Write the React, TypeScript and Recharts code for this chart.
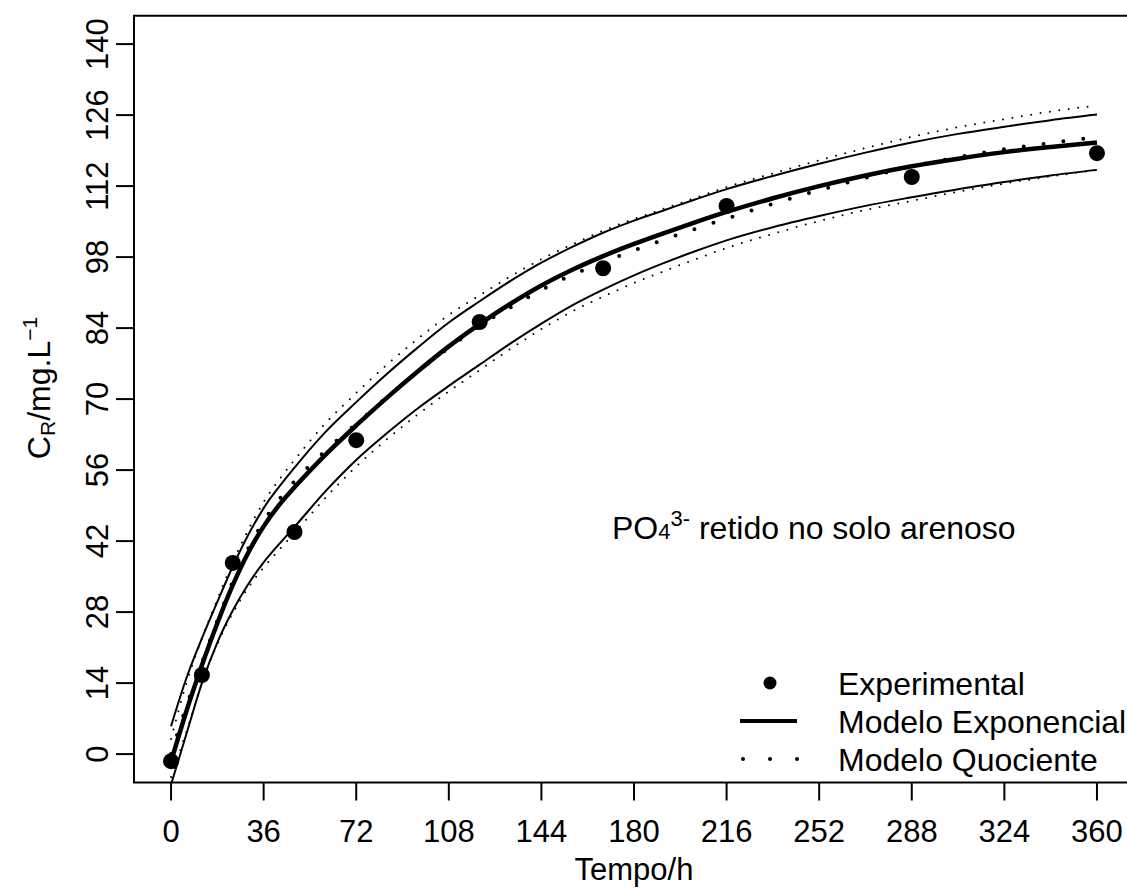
import { ComposedChart, Line, Scatter, XAxis, YAxis, ReferenceArea } from "recharts";

const FONT = "'Liberation Sans', Arial, Helvetica, sans-serif";

// time grid used for the fitted curves (h)
const tempo = [0, 6, 12, 18, 24, 30, 36, 42, 48, 60, 72, 84, 96, 108, 120, 132, 144, 156, 168, 180, 192, 204, 216, 234, 252, 270, 288, 306, 324, 342, 360];

// Modelo Exponencial + band
const expModel = [-1.5, 8.5, 17.5, 25.8, 33.3, 39.7, 44.9, 49.1, 52.6, 59, 64.8, 70.3, 75.5, 80.4, 84.8, 88.8, 92.4, 95.5, 98.2, 100.6, 102.8, 104.9, 106.9, 109.6, 112, 114.1, 115.9, 117.4, 118.7, 119.7, 120.6];
const expUpper = [5.5, 15, 22.8, 30, 37, 43.2, 48.5, 52.7, 56.5, 63.5, 69.4, 75, 80.2, 85.1, 89.3, 93.3, 96.9, 100, 102.8, 105.2, 107.3, 109.4, 111.4, 114, 116.4, 118.6, 120.6, 122.3, 123.7, 125, 126.1];
const expLower = [-6, 4, 14, 22, 28.3, 33.5, 37.8, 41.4, 44.8, 51.8, 58, 63.3, 68.2, 72.6, 76.8, 81, 84.9, 88.5, 91.6, 94.4, 96.9, 99.2, 101.3, 103.9, 106.1, 108.1, 109.8, 111.4, 112.8, 114.1, 115.2];

// Modelo Quociente + band
const quoModel = [0, 9.5, 18, 26.3, 34, 40.5, 45.9, 50.2, 53.8, 59.8, 65.1, 70.4, 75.4, 80.1, 84.4, 88.1, 91.5, 94.5, 97, 99.3, 101.5, 103.6, 105.6, 108.5, 111.2, 113.6, 115.9, 117.7, 119.3, 120.5, 121.7];
const quoUpper = [3, 14, 22.8, 30.5, 37.8, 44.2, 49.7, 54.1, 58, 65.2, 71.2, 76.8, 81.9, 86.6, 90.5, 94.2, 97.6, 100.5, 103.2, 105.5, 107.6, 109.7, 111.8, 114.5, 117.1, 119.5, 121.7, 123.6, 125.2, 126.7, 127.9];
const quoLower = [-4.5, 4.5, 14, 21.7, 27.8, 32.8, 36.8, 40.3, 43.6, 50.5, 56.7, 62.1, 67, 71.5, 75.7, 79.9, 83.8, 87.3, 90.2, 92.9, 95.3, 97.6, 99.8, 102.6, 105.1, 107.3, 109.1, 110.9, 112.5, 113.9, 115.2];

// experimental points
const expTempo = [0, 12, 24, 48, 72, 120, 168, 216, 288, 360];
const expValues = [-1.4, 15.6, 37.7, 43.8, 61.9, 85.2, 95.8, 108.1, 113.8, 118.5];

const xTicks = [0, 36, 72, 108, 144, 180, 216, 252, 288, 324, 360];
const yTicks = [0, 14, 28, 42, 56, 70, 84, 98, 112, 126, 140];

const curveRows = tempo.map((t, i) => ({
  t,
  exp: expModel[i],
  expUp: expUpper[i],
  expLo: expLower[i],
  quo: quoModel[i],
  quoUp: quoUpper[i],
  quoLo: quoLower[i],
}));
const points = expTempo.map((t, i) => ({ t, cr: expValues[i] }));

function XTick({ x, y, payload }: any) {
  return (
    <text x={x} y={y} dy="0.71em" textAnchor="middle" fontSize={31} fontFamily={FONT} fill="#000">
      {payload.value}
    </text>
  );
}

function YTick({ x, y, payload }: any) {
  return (
    <text x={x} y={y} transform={`rotate(-90, ${x}, ${y})`} textAnchor="middle" fontSize={31} fontFamily={FONT} fill="#000">
      {payload.value}
    </text>
  );
}

const Dot = (p: any) => <circle cx={p.cx} cy={p.cy} r={8} fill="#000" />;

export default function App() {
  return (
    <div style={{ position: "absolute", left: 0, top: 0, width: 1127, height: 889, overflow: "hidden", background: "#fff" }}>
      <ComposedChart width={1140} height={889} data={curveRows} margin={{ top: 15.7, right: 6, bottom: 0, left: 0 }}>
        <XAxis
          dataKey="t"
          type="number"
          domain={[-14.4, 374.4]}
          ticks={xTicks}
          allowDataOverflow
          axisLine={false}
          tickLine={{ stroke: "#000", strokeWidth: 2 }}
          tickSize={18}
          tickMargin={19}
          height={106.5}
          tick={<XTick />}
        />
        <YAxis
          type="number"
          domain={[-5.6, 145.6]}
          ticks={yTicks}
          allowDataOverflow
          axisLine={false}
          tickLine={{ stroke: "#000", strokeWidth: 2 }}
          tickSize={18}
          tickMargin={8}
          width={134}
          tick={<YTick />}
        />
        <ReferenceArea x1={-14.4} x2={374.4} y1={-5.6} y2={145.6} fill="none" stroke="#000" strokeWidth={2} />
        <Line dataKey="expUp" type="monotone" stroke="#000" strokeWidth={2} dot={false} isAnimationActive={false} />
        <Line dataKey="expLo" type="monotone" stroke="#000" strokeWidth={2} dot={false} isAnimationActive={false} />
        <Line dataKey="quoUp" type="monotone" stroke="#000" strokeWidth={2} strokeDasharray="0 9.5" strokeLinecap="round" dot={false} isAnimationActive={false} />
        <Line dataKey="quoLo" type="monotone" stroke="#000" strokeWidth={2} strokeDasharray="0 9.5" strokeLinecap="round" dot={false} isAnimationActive={false} />
        <Line dataKey="exp" type="monotone" stroke="#000" strokeWidth={4.5} dot={false} isAnimationActive={false} />
        <Line dataKey="quo" type="monotone" stroke="#000" strokeWidth={4} strokeDasharray="0 20" strokeLinecap="round" dot={false} isAnimationActive={false} />
        <Scatter data={points} dataKey="cr" shape={<Dot />} isAnimationActive={false} />
      </ComposedChart>
      <svg width={1127} height={889} style={{ position: "absolute", left: 0, top: 0, pointerEvents: "none" }} fontFamily={FONT} fill="#000">
        <text x={634} y={880} textAnchor="middle" fontSize={31}>Tempo/h</text>
        <text transform="translate(50,388) rotate(-90)" textAnchor="middle" fontSize={32}>
          C<tspan fontSize={21} dy={5}>R</tspan>
          <tspan dy={-5}>/mg.L</tspan>
          <tspan fontSize={21} dy={-13}>−1</tspan>
        </text>
        <text x={612} y={539} fontSize={32}>
          PO<tspan fontSize={22}>4</tspan>
          <tspan fontSize={22} dy={-13}>3-</tspan>
          <tspan dy={13}> retido no solo arenoso</tspan>
        </text>
        <circle cx={770} cy={683} r={6.5} />
        <line x1={740} x2={797} y1={721} y2={721} stroke="#000" strokeWidth={4} />
        <circle cx={743} cy={759} r={2} />
        <circle cx={770} cy={759} r={2} />
        <circle cx={797} cy={759} r={2} />
        <text x={838} y={695} fontSize={32}>Experimental</text>
        <text x={838} y={733} fontSize={32}>Modelo Exponencial</text>
        <text x={838} y={771} fontSize={32}>Modelo Quociente</text>
      </svg>
    </div>
  );
}
